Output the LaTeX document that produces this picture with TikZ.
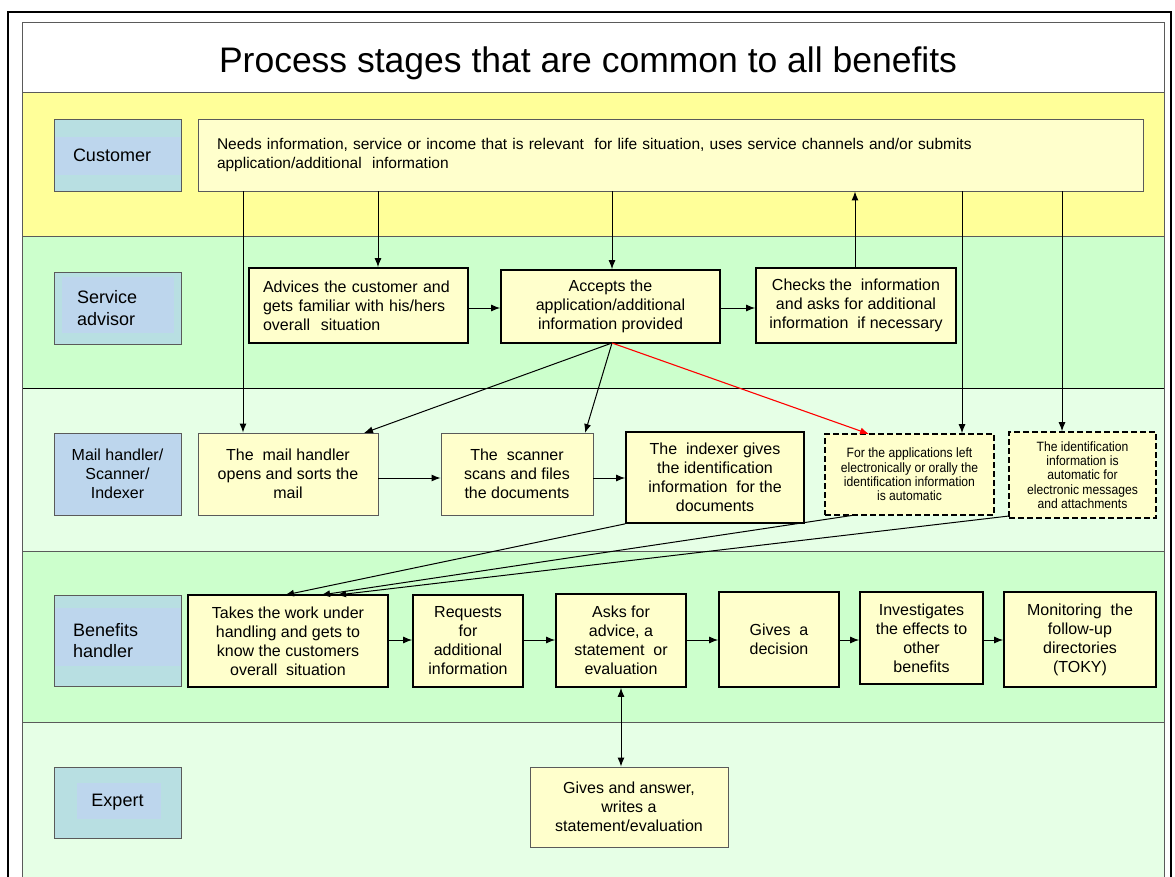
\documentclass[tikz,border=0pt]{standalone}
\usepackage{fontspec}
\setmainfont{Liberation Sans}
\newfontfamily\narrowfont[FakeStretch=0.9]{Liberation Sans}
\usetikzlibrary{arrows.meta,calc}
\definecolor{laneY}{RGB}{255,255,153}
\definecolor{laneG}{RGB}{204,255,204}
\definecolor{laneL}{RGB}{230,255,230}
\definecolor{boxY}{RGB}{255,255,204}
\definecolor{roleO}{RGB}{184,223,226}
\definecolor{roleI}{RGB}{189,214,237}
\definecolor{edgeG}{RGB}{90,90,90}
\tikzset{
  x=1pt,y=-1pt,
  txt/.style={font=\fontsize{16}{19}\selectfont},
  rolebox/.style={draw=edgeG,line width=0.9pt,inner sep=0pt,font=\fontsize{18}{21.5}\selectfont},
  thinbox/.style={draw=edgeG,fill=boxY,line width=0.9pt,inner sep=0pt,align=center,txt},
  thickbox/.style={draw=black,fill=boxY,line width=1.7pt,inner sep=0pt,align=center,txt},
  dashbox/.style={draw=black,fill=boxY,line width=1.6pt,dash pattern=on 6pt off 3pt,inner sep=0pt,align=center,font=\narrowfont\fontsize{13.5}{14.3}\selectfont},
  arr/.style={draw=black,line width=1pt,-{Latex[length=9pt,width=7pt]}},
  redarr/.style={draw=red,line width=1.1pt,-{Latex[length=9pt,width=7pt]}},
  dblarr/.style={draw=black,line width=1pt,{Latex[length=9pt,width=7pt]}-{Latex[length=9pt,width=7pt]}},
  laneline/.style={draw=edgeG,line width=0.9pt},
}
% \mybox{style}{name}{x1}{y1}{x2}{y2}{text}
\newcommand\mybox[7]{%
  \node[#1,minimum width={#5pt-#3pt},minimum height={#6pt-#4pt}] (#2) at ({(#3+#5)/2},{(#4+#6)/2}) {#7};}
\begin{document}
\begin{tikzpicture}
\useasboundingbox (0,0) rectangle (1175,877);
\fill[white] (0,0) rectangle (1175,877);
% lanes
\fill[white] (22,23) rectangle (1164,92);
\fill[laneY] (22,92) rectangle (1164,236);
\fill[laneG] (22,236) rectangle (1164,388);
\fill[laneL] (22,388) rectangle (1164,551);
\fill[laneG] (22,551) rectangle (1164,722);
\fill[laneL] (22,722) rectangle (1164,877);
\draw[laneline] (22,92) -- (1164,92);
\draw[laneline] (22,236) -- (1164,236);
\draw[black,line width=0.9pt] (22,388) -- (1164,388);
\draw[laneline] (22,551) -- (1164,551);
\draw[laneline] (22,722) -- (1164,722);
\draw[edgeG,line width=1pt] (22,877) -- (22,23) -- (1164,23) -- (1164,877);
\draw[black,line width=2pt] (8,877) -- (8,12) -- (1171,12) -- (1171,877);
% title
\node[font=\fontsize{35.5}{40}\selectfont,inner sep=0pt] (title) at (588,63) {Process stages that are common to all benefits};
% role boxes: fills
\fill[roleO] (54,119) rectangle (181,191);
\fill[roleI] (54,137) rectangle (181,175);
\fill[roleO] (54,272) rectangle (181,344);
\fill[roleI] (62,277) rectangle (174,333);
\fill[roleI] (54,433) rectangle (181,515);
\fill[roleO] (54,595) rectangle (181,686);
\fill[roleI] (54,608) rectangle (181,666);
\fill[roleO] (54,767) rectangle (181,838);
\fill[roleI] (77,783) rectangle (161,819);
\mybox{rolebox,align=left,text width=89pt,inner xsep=19pt}{rcust}{54}{119}{181}{191}{Customer}
\mybox{rolebox,align=left,text width=81pt,inner xsep=23pt}{rserv}{54}{272}{181}{344}{Service\\advisor}
\mybox{rolebox,align=center,font=\fontsize{16}{19}\selectfont}{rmail}{54}{433}{181}{515}{Mail handler/\\Scanner/\\Indexer}
\mybox{rolebox,align=left,text width=89pt,inner xsep=19pt}{rben}{54}{595}{181}{686}{Benefits\\handler}
\mybox{rolebox,align=center}{rexp}{54}{767}{181}{838}{Expert}
% customer
\mybox{thinbox,align=left,text width=907pt,inner xsep=19pt,font=\fontsize{15.5}{19}\selectfont}{cust}{198}{119}{1143}{191}{Needs information, service or income that is relevant\ \ for life situation, uses service channels and/or submits\\application/additional\ \ information}
% service advisor
\mybox{thickbox,align=left,text width=191pt,inner xsep=14pt}{adv}{249}{268}{468}{343}{Advices the customer and\\gets familiar with his/hers\\overall\ \ situation}
\mybox{thickbox}{acc}{501}{270}{720}{343}{Accepts the\\application/additional\\information provided}
\mybox{thickbox}{chk}{756}{268}{956}{343}{Checks the\ \ information\\and asks for additional\\information\ \ if necessary}
% mail handler
\mybox{thinbox}{mail}{198}{433}{378}{515}{The\ \ mail handler\\opens and sorts the\\mail}
\mybox{thinbox}{scan}{441}{433}{593}{515}{The\ \ scanner\\scans and files\\the documents}
\mybox{thickbox}{idx}{626}{432}{804}{523}{The\ \ indexer gives\\the identification\\information\ \ for the\\documents}
\mybox{dashbox}{auto1}{825}{434}{994}{515}{For the applications left\\electronically or orally the\\identification information\\is automatic}
\mybox{dashbox}{auto2}{1009}{432}{1156}{518}{The identification\\information is\\automatic for\\electronic messages\\and attachments}
% benefits handler
\mybox{thickbox}{take}{188}{595}{388}{687}{Takes the work under\\handling and gets to\\know the customers\\overall\ \ situation}
\mybox{thickbox}{req}{413}{595}{523}{687}{Requests\\for\\additional\\information}
\mybox{thickbox}{ask}{556}{594}{686}{687}{Asks for\\advice, a\\statement\ \ or\\evaluation}
\mybox{thickbox}{dec}{719}{592}{839}{687}{Gives\ \ a\\decision}
\mybox{thickbox}{inv}{860}{592}{983}{684}{Investigates\\the effects to\\other\\benefits}
\mybox{thickbox}{mon}{1004}{592}{1156}{687}{Monitoring\ \ the\\follow-up\\directories\\(TOKY)}
% expert
\mybox{thinbox}{ans}{530}{767}{728}{847}{Gives and answer,\\writes a\\statement/evaluation}
% helper coordinates
\coordinate (c243) at (243,0);
\coordinate (c378) at (378,0);
\coordinate (c612) at (612,0);
\coordinate (c855) at (855,0);
\coordinate (c962) at (962,0);
\coordinate (c1062) at (1062,0);
\coordinate (c621) at (621,0);
\coordinate (accB) at (612,343);
% connectors customer lane
\draw[arr] (cust.south -| c243) -- (mail.north -| c243);
\draw[arr] (cust.south -| c378) -- (adv.north -| c378);
\draw[arr] (cust.south -| c612) -- (acc.north -| c612);
\draw[arr] (chk.north -| c855) -- (cust.south -| c855);
\draw[arr] (cust.south -| c962) -- (auto1.north -| c962);
\draw[arr] (cust.south -| c1062) -- (auto2.north -| c1062);
% service advisor lane
\coordinate (y308) at (0,308);
\draw[arr] (adv.east |- y308) -- (acc.west |- y308);
\draw[arr] (acc.east |- y308) -- (chk.west |- y308);
\coordinate (m1) at (364,433);
\coordinate (s1) at (585,433);
\coordinate (a1) at (869,434);
\draw[arr] (accB) -- (m1);
\draw[arr] (accB) -- (s1);
\draw[redarr] (accB) -- (a1);
% mail lane
\coordinate (y478) at (0,478);
\draw[arr] (mail.east |- y478) -- (scan.west |- y478);
\draw[arr] (scan.east |- y478) -- (idx.west |- y478);
\coordinate (t1) at (285,595);
\coordinate (t2) at (321,595);
\coordinate (t3) at (337,595);
\coordinate (d1) at (855,515);
\coordinate (d2) at (1009,516);
\draw[arr] (idx.south west) -- (t1);
\draw[arr] (d1) -- (t2);
\draw[arr] (d2) -- (t3);
% benefits lane
\coordinate (y640) at (0,640);
\draw[arr] (take.east |- y640) -- (req.west |- y640);
\draw[arr] (req.east |- y640) -- (ask.west |- y640);
\draw[arr] (ask.east |- y640) -- (dec.west |- y640);
\draw[arr] (dec.east |- y640) -- (inv.west |- y640);
\draw[arr] (inv.east |- y640) -- (mon.west |- y640);
\draw[dblarr] (ask.south -| c621) -- (ans.north -| c621);
\end{tikzpicture}
\end{document}
